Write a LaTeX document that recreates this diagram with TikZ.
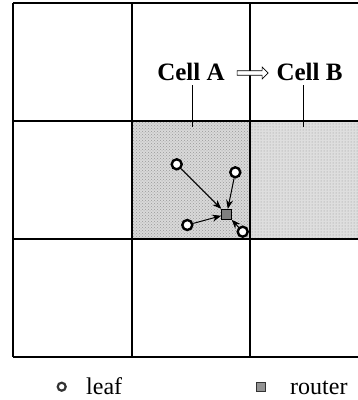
\documentclass[tikz,border=0pt]{standalone}
\usepackage{fontspec}
\setmainfont{Liberation Serif}
\usetikzlibrary{arrows.meta,shapes.arrows,patterns}

\tikzset{
	leaf/.style={circle,draw=black,fill=white,line width=2.4pt,inner sep=0pt,minimum size=10pt},
	router/.style={rectangle,draw=black,fill=gray,line width=0.9pt,inner sep=0pt,minimum size=10pt},
	celltext/.style={font=\fontsize{25}{29}\selectfont\bfseries,inner sep=0pt},
	legendtext/.style={font=\fontsize{24}{28}\selectfont,inner sep=0pt,anchor=base west},
	tolink/.style={-{Stealth[length=9pt,width=7pt]},line width=1pt},
	gridline/.style={line width=1.5pt}
}

\begin{document}
\begin{tikzpicture}[x=1pt,y=-1pt]
		\useasboundingbox (0,0) rectangle (358,400);
		% shaded cells
		\fill[gray!30] (132,121) rectangle (250,239);
		\fill[pattern=crosshatch dots,pattern color=gray!80] (132,121) rectangle (250,239);
		\fill[gray!26] (250,121) rectangle (362,239);
		\fill[pattern=dots,pattern color=gray!85] (250,121) rectangle (362,239);
		
		% grid
		\foreach \y in {3,121,239,357}
			\draw[gridline] (13,\y) -- (362,\y);
		\foreach \x in {13,132,250}
			\draw[gridline] (\x,3) -- (\x,357);
		
		% cell labels
		\node[celltext] (cellA) at (191,72) {Cell A};
		\node[celltext] (cellB) at (309.5,72) {Cell B};
		\node[single arrow,draw,fill=white,line width=0.6pt,minimum height=31pt,minimum width=12pt,single arrow head extend=3pt,inner sep=1.5pt] (move) at (251.5,73) {};
		\coordinate (inA) at (192,127);
		\coordinate (inB) at (303,127);
		\draw[line width=0.9pt] (192,85) -- (inA);
		\draw[line width=0.9pt] (303,85) -- (inB);
		
		% leaves and router
		\node[router] (rt) at (226.7,214.3) {};
		\node[leaf] (l1) at (176.7,164.3) {};
		\node[leaf] (l2) at (235.3,172.3) {};
		\node[leaf] (l3) at (187.3,225) {};
		\node[leaf] (l4) at (242.7,231.7) {};
		\draw[tolink] (l1) -- (rt);
		\draw[tolink] (l2) -- (rt);
		\draw[tolink] (l3) -- (rt);
		\draw[tolink] (l4) -- (rt);
		
		% legend
		\node[leaf,minimum size=8pt,line width=2.2pt,draw=black!80] (legleaf) at (61.7,386.7) {};
		\node[legendtext] (leaftext) at (86,394) {leaf};
		\node[router,minimum size=9.5pt,fill=gray!85,draw=gray!40!black] (legrouter) at (260.7,387) {};
		\node[legendtext] (routertext) at (290,394) {router};
	\end{tikzpicture}
\end{document}
